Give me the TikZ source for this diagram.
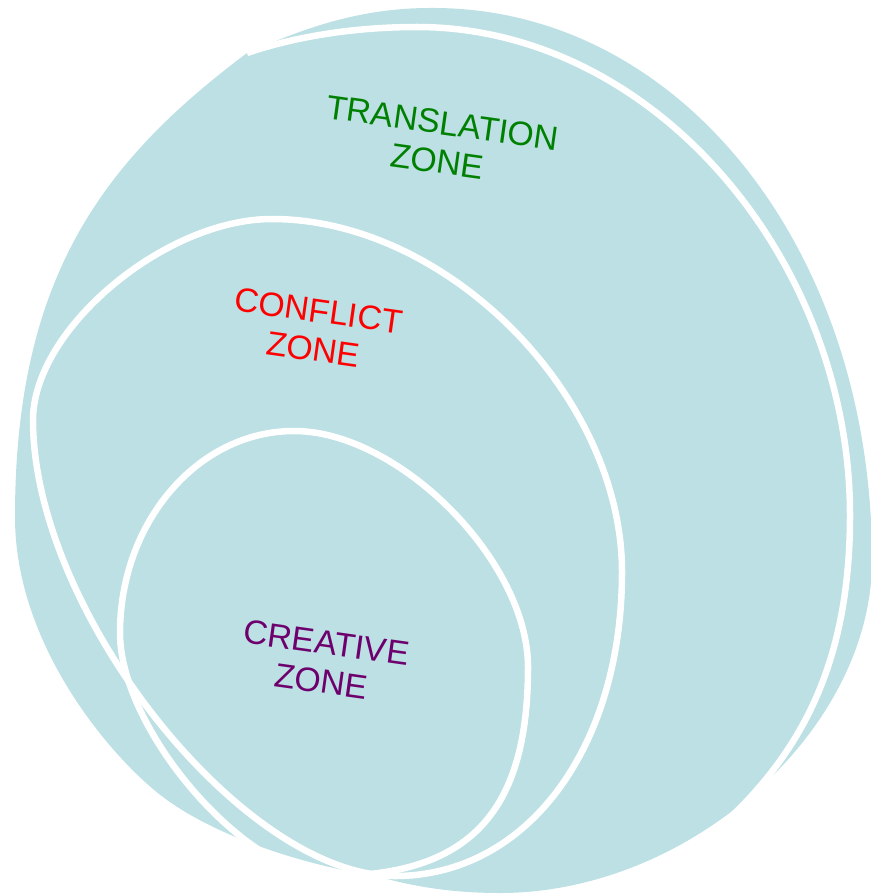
\documentclass[tikz,border=0pt]{standalone}
\usepackage{fontspec}
\setmainfont{Liberation Sans}
\definecolor{zoneblue}{RGB}{188,224,228}
\definecolor{transgreen}{RGB}{0,128,0}
\definecolor{conflictred}{RGB}{255,0,0}
\definecolor{creativepurple}{RGB}{110,0,110}

\begin{document}
\begin{tikzpicture}[x=0.01cm, y=-0.01cm, line join=round]
\tikzstyle{zone line}=[draw=white, line width=1.85pt]
\tikzstyle{zone label}=[align=center, rotate=-8, inner sep=0pt, font=\fontsize{9.6}{11}\selectfont]
\useasboundingbox (0,0) rectangle (871,894);
% blue area behind the zones
\fill[zoneblue] (247,53) .. controls (290,35) and (350,8) .. (430,8)
  .. controls (680,6) and (872,250) .. (872,560)
  .. controls (872,730) and (690,893) .. (500,893)
  .. controls (450,893) and (410,886) .. (373,875)
  .. controls (330,870) and (230,845) .. (167,800)
  .. controls (118,765) and (15,650) .. (15,517)
  .. controls (15,277) and (103,161) .. (247,53) -- cycle;
% translation zone
\draw[zone line] (247,53) .. controls (300,35) and (360,27) .. (417,27)
  .. controls (655,27) and (850,261) .. (850,515)
  .. controls (850,650) and (810,740) .. (733,815);
% conflict zone
\draw[zone line] (33,420) .. controls (33,329.5) and (164.5,219) .. (272,219)
  .. controls (447,219) and (622,395.5) .. (622,572)
  .. controls (622,748) and (527,876) .. (395,876)
  .. controls (243,876) and (33,611.5) .. cycle;
% creative zone
\draw[zone line] (120,633) .. controls (120,522) and (198,431) .. (294,431)
  .. controls (399,431) and (528,561) .. (528,667)
  .. controls (528,813) and (469,876) .. (330,876)
  .. controls (246,876) and (120,730) .. cycle;
\node[zone label, text=transgreen]     (translation) at (440,142) {TRANSLATION\\ZONE};
\node[zone label, text=conflictred]    (conflict)    at (316,330) {CONFLICT\\ZONE};
\node[zone label, text=creativepurple] (creative)    at (324,662) {CREATIVE\\ZONE};
\end{tikzpicture}
\end{document}
